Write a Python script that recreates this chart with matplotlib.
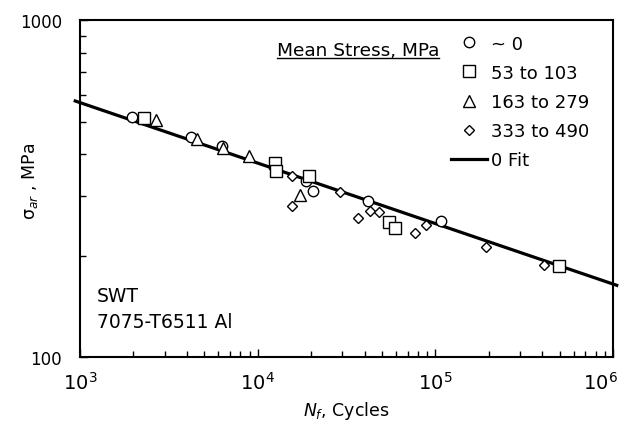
import matplotlib
matplotlib.use("Agg")
import matplotlib.pyplot as plt
from matplotlib.lines import Line2D
from matplotlib.transforms import ScaledTranslation
import numpy as np

plt.rcParams['font.family'] = ['DejaVu Sans']
plt.rcParams['mathtext.fontset'] = 'dejavusans'
plt.rcParams['mathtext.default'] = 'regular'

# data: cycles to failure and equivalent stress amplitude (MPa)
n_zero = [1950, 4200, 6300, 18700, 20600, 41600, 107000]
s_zero = [514, 451, 422, 334, 311, 290, 254]

n_53 = [2290, 12500, 12600, 19500, 55000, 59300, 499000]
s_53 = [511, 376, 356, 344, 252, 241, 186]

n_163 = [2680, 4550, 6360, 8940, 17300]
s_163 = [505, 444, 416, 396, 303]

n_333 = [15600, 15600, 29100, 36600, 42900, 48400, 76900, 88300, 193000, 409000]
s_333 = [344, 280, 308, 258, 272, 269, 234, 247, 212, 188]

# fit: sigma_ar = A * N^b
fit_A = 1966.0
fit_b = -0.1795
fit_N = np.array([9.4e2, 1.05e6])

legend_labels = ['~ 0', '53 to 103', '163 to 279', '333 to 490', '0 Fit']
x_ticks = [1e3, 1e4, 1e5, 1e6]
x_ticklabels = ['$10^3$', '$10^4$', '$10^5$', '$10^6$']

fig = plt.figure(figsize=(6.28, 4.27), dpi=100)
ax = fig.add_axes([0.1274, 0.1616, 0.8487, 0.789])

hfit, = ax.plot(fit_N, fit_A * fit_N ** fit_b, color='black', lw=2.3,
                zorder=2, clip_on=False)

mk = dict(linestyle='none', mfc='white', mec='black', mew=1.0, zorder=3)
h1, = ax.plot(n_zero, s_zero, marker='o', ms=7.5, **mk)
h2, = ax.plot(n_53, s_53, marker='s', ms=8, **mk)
h3, = ax.plot(n_163, s_163, marker='^', ms=8.5, **mk)
h4, = ax.plot(n_333, s_333, marker='D', ms=5.6, **mk)

ax.set_xscale('log')
ax.set_yscale('log')
ax.set_xlim(1e3, 1e6)
ax.set_ylim(100, 1000)
ax.set_xticks(x_ticks, labels=x_ticklabels)
ax.set_yticks([100, 1000], labels=['100', '1000'])
ax.set_yticks([200, 300, 400, 500, 600, 700, 800, 900], minor=True)
ax.yaxis.set_minor_formatter(matplotlib.ticker.NullFormatter())
ax.xaxis.set_minor_formatter(matplotlib.ticker.NullFormatter())

ax.tick_params(which='both', direction='in', top=False, right=False)
ax.tick_params(which='major', length=6, width=1)
ax.tick_params(which='minor', length=4, width=1)
ax.tick_params(axis='x', labelsize=14, pad=10)
ax.tick_params(axis='y', labelsize=12, pad=13)
for sp in ax.spines.values():
    sp.set_linewidth(1.5)

# the last x label sits inside the figure edge
last = ax.get_xticklabels()[-1]
last.set_transform(last.get_transform() +
                   ScaledTranslation(-9 / 72, 0, fig.dpi_scale_trans))

ax.set_xlabel(r'$\mathit{N}_{\mathit{f}}$, Cycles', fontsize=12.5)
ax.xaxis.set_label_coords(0.5, -0.125)
ax.set_ylabel(r'$\sigma_{\mathit{ar}}$ , MPa', fontsize=12.5)
ax.yaxis.set_label_coords(-0.075, 0.525)

ax.legend([h1, h2, h3, h4, hfit], legend_labels, loc='upper left',
          bbox_to_anchor=(0.696, 0.957), frameon=False, fontsize=13,
          handlelength=2.0, handletextpad=0.2, labelspacing=0.62,
          borderpad=0, borderaxespad=0)

t = ax.text(0.6735, 0.911, 'Mean Stress, MPa', transform=ax.transAxes,
            ha='right', va='center', fontsize=13.3)
ax.text(0.032, 0.184, 'SWT', transform=ax.transAxes, ha='left',
        va='center', fontsize=13.5)
ax.text(0.032, 0.104, '7075-T6511 Al', transform=ax.transAxes, ha='left',
        va='center', fontsize=13.5)

# underline the legend title
fig.canvas.draw()
bb = t.get_window_extent()
W, H = fig.bbox.width, fig.bbox.height
fig.add_artist(Line2D([bb.x0 / W, bb.x1 / W], [(bb.y0 + 1) / H] * 2,
                      color='black', lw=1.0))

fig.savefig('out.png', dpi=100)
